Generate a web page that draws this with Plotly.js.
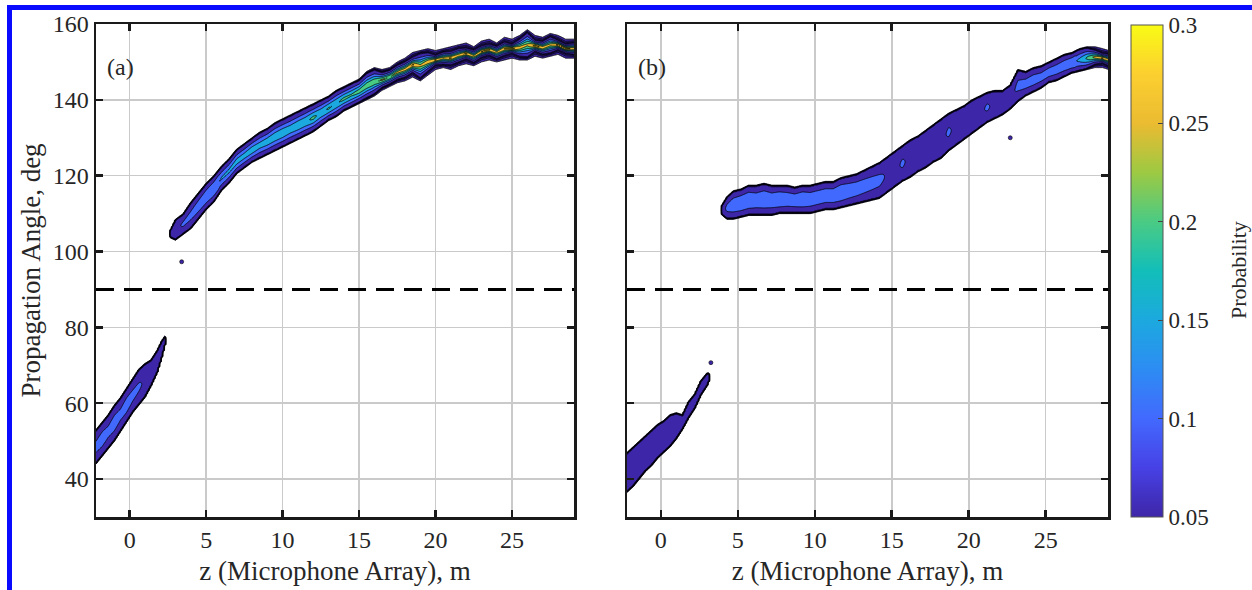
<!DOCTYPE html>
<html><head><meta charset="utf-8">
<script src="https://cdn.plot.ly/plotly-3.0.1.min.js"></script>
<style>html,body{margin:0;padding:0;background:#fff;}#chart{width:1252px;height:590px;}</style>
</head><body><div id="chart"></div>
<script>
// ---------- values ----------
const xTicks = [0, 5, 10, 15, 20, 25];
const yTicks = [40, 60, 80, 100, 120, 140, 160];
const cbTicks = [0.05, 0.1, 0.15, 0.2, 0.25, 0.3];
const cbTickText = ['0.05', '0.1', '0.15', '0.2', '0.25', '0.3'];
const dashAngle = 90;
const panelLabels = ['(a)', '(b)'];

// Panel (a), upper branch: z (m), lower / upper outer edge (deg), peak probability
const aUpZ  = [2.7,3.0,3.5,4.0,4.5,5.0,5.5,6.0,6.5,7.0,7.5,8.0,8.5,9.0,9.5,10.0,10.5,11.0,11.5,12.0,12.5,13.0,13.5,14.0,14.5,15.0,15.5,16.0,16.5,17.0,17.5,18.0,18.5,19.0,19.5,20.0,20.5,21.0,21.5,22.0,22.5,23.0,23.5,24.0,24.5,25.0,25.5,26.0,26.5,27.0,27.5,28.0,28.5,29.1];
const aUpLo = [103.5,103,104.5,106,108.5,111,113,116,118,120.5,122,123.5,124.5,125.5,126.5,127.5,128.5,129.5,130.5,131.5,133,134.5,135.5,137,138,139,140,141,142.5,143.5,144.5,145,146,145,146.5,148,148.5,148,149,149.5,149,150,150.5,150,150.5,151,150.5,150.5,151.5,151,151.5,152,151,151];
const aUpHi = [106,108.5,110,113,115.5,118,120,122.5,124.5,127,128.5,130,131.5,132.5,134,135,136,137,138,139,140,141,142.5,143.5,144.5,145.5,147.5,148.5,148,148.5,150,151,152.5,153,153.5,153,153.5,154,154.5,155,154,155.5,156,155,156.5,156,157,158.5,157,156.5,157.5,157,156,156];
const aUpPk = [0.08,0.09,0.105,0.11,0.12,0.13,0.14,0.155,0.16,0.17,0.17,0.18,0.17,0.18,0.185,0.19,0.18,0.19,0.19,0.21,0.19,0.205,0.195,0.21,0.205,0.22,0.23,0.24,0.26,0.25,0.27,0.28,0.31,0.26,0.29,0.31,0.27,0.31,0.28,0.32,0.27,0.31,0.32,0.27,0.31,0.32,0.28,0.26,0.32,0.29,0.27,0.31,0.32,0.28];

// Panel (a), lower branch
const aLoZ  = [-2.2,-1.8,-1.4,-1.0,-0.6,-0.2,0.2,0.6,1.0,1.4,1.8,2.1,2.35];
const aLoLo = [44,46,48,50,52.5,55,57.5,59.5,61.5,64.5,68,72,76];
const aLoHi = [53,55,57,59.5,61.5,64,66.5,69,70.5,71.5,74,76.5,78];
const aLoPk = [0.11,0.12,0.11,0.12,0.11,0.12,0.11,0.105,0.095,0.09,0.08,0.07,0.06];

// Panel (b), upper branch
const bUpZ  = [4.0,4.3,4.7,5.2,5.7,6.2,6.7,7.2,7.7,8.2,8.7,9.2,9.7,10.2,10.7,11.2,11.7,12.2,12.7,13.2,13.7,14.2,14.7,15.2,15.7,16.2,16.7,17.2,17.7,18.2,18.7,19.2,19.7,20.2,20.7,21.2,21.7,22.2,22.7,23.2,23.7,24.2,24.7,25.2,25.7,26.2,26.7,27.2,27.7,28.2,28.7,29.1];
const bUpLo = [109.5,108.5,108.5,109,109.5,109.5,109.5,109.5,110,110,110,110,110,110.5,111,111,111.5,112,112.5,113,113.5,114,115.5,117,118.5,119.5,121,122,123.5,124.5,126.5,128,129.5,131,132.5,134,135,136,137.5,139.5,141,142,143,144.5,145,146,147,147.5,148,148.5,148.5,148];
const bUpHi = [112.5,114.5,116,116.5,117.5,117.5,118,117.5,117.5,117.5,117,117.5,117.5,118,118.5,118.5,119.5,120,120.5,121.5,122.5,123.5,125,126.5,128,129.5,130.5,132,133.5,135,136.5,137.5,138.5,140,141,142,142.5,142.5,144,148,147.5,148.5,149,150,151,152,152.5,153.5,154,154,153.5,153];
const bUpPk = [0.08,0.11,0.13,0.14,0.14,0.13,0.14,0.13,0.14,0.13,0.13,0.14,0.13,0.13,0.13,0.13,0.14,0.13,0.125,0.12,0.115,0.11,0.095,0.09,0.105,0.09,0.09,0.095,0.09,0.09,0.105,0.09,0.09,0.09,0.09,0.105,0.09,0.09,0.085,0.11,0.115,0.12,0.115,0.12,0.12,0.125,0.135,0.16,0.21,0.27,0.31,0.28];

// Panel (b), lower branch
const bLoZ  = [-2.2,-1.8,-1.4,-1.0,-0.6,-0.2,0.2,0.6,1.0,1.4,1.8,2.2,2.6,3.0,3.15];
const bLoLo = [36.5,38,40,42,43.5,45.5,47,48.5,50.5,53,56,58.5,62,64.5,66];
const bLoHi = [47,48.5,50,51.5,53,54.5,55.5,57,57.5,57,60.5,62.5,66,68,68];
const bLoPk = [0.09,0.09,0.09,0.09,0.09,0.09,0.09,0.085,0.08,0.07,0.07,0.07,0.07,0.07,0.06];

// isolated specks
const specAZ = [3.4],        specAAng = [97.3];
const specBZ = [22.7, 3.25], specBAng = [130, 70.7];

// ---------- colours ----------
const parula = [
  [0.0,'rgb(62,38,168)'],[0.1,'rgb(71,65,229)'],[0.2,'rgb(66,105,254)'],[0.3,'rgb(45,140,243)'],
  [0.4,'rgb(28,169,223)'],[0.5,'rgb(18,190,185)'],[0.6,'rgb(74,203,132)'],[0.7,'rgb(157,201,67)'],
  [0.8,'rgb(235,187,49)'],[0.9,'rgb(252,207,48)'],[1.0,'rgb(249,251,21)']
];
function parulaAt(p){
  p = Math.max(0, Math.min(1, p));
  for (let i = 0; i < parula.length - 1; i++) {
    const a = parula[i], b = parula[i+1];
    if (p <= b[0]) {
      const f = (p - a[0]) / (b[0] - a[0]);
      const ca = a[1].match(/\d+/g).map(Number), cb = b[1].match(/\d+/g).map(Number);
      return 'rgb(' + ca.map((v,k)=>Math.round(v + f*(cb[k]-v))).join(',') + ')';
    }
  }
  return parula[parula.length-1][1];
}
const cMin = cbTicks[0], cMax = cbTicks[cbTicks.length-1];
const lvStart = 0.05, lvEnd = 0.3, lvSize = 0.05;
const nLev = Math.round((lvEnd - lvStart)/lvSize) + 1;
const bandScale = [[0, 'rgba(255,255,255,0)']];
for (let k = 1; k <= nLev; k++) {
  const lower = lvStart + (k-1)*lvSize;
  bandScale.push([k/nLev, parulaAt((lower - cMin)/(cMax - cMin))]);
}
const tailStart = 0.01, tailEnd = 0.04, tailSize = 0.01;
const tailScale = [[0,'rgba(255,255,255,0)'],[0.25, parula[0][1]],[1, parula[0][1]]];

// ---------- grid for the contour traces ----------
const xGrid = []; for (let x = -2.2; x <= 29.15; x += 0.1) xGrid.push(+x.toFixed(2));
const yGrid = []; for (let y = 30; y <= 160; y += 0.25) yGrid.push(y);

function addRidge(grid, zs, lo, hi, pk){
  for (let i = 0; i < xGrid.length; i++) {
    const x = xGrid[i];
    if (x < zs[0] || x > zs[zs.length-1]) continue;
    let k = 0; while (k < zs.length - 2 && x > zs[k+1]) k++;
    const f = (x - zs[k]) / (zs[k+1] - zs[k]);
    const l = lo[k] + f*(lo[k+1]-lo[k]);
    const h = hi[k] + f*(hi[k+1]-hi[k]);
    const p = pk[k] + f*(pk[k+1]-pk[k]);
    const c = (l + h)/2, hw = (h - l)/2;
    const rim = 0.3 + 9*Math.max(0, p - 0.2);
    const w = Math.max(hw - rim, 0.4);
    const a = Math.log(p/0.05);
    const q = p >= 0.24 ? 1.5 : (p >= 0.15 ? 1.6 : 2);
    for (let j = 0; j < yGrid.length; j++) {
      const d = Math.abs(yGrid[j] - c);
      let v;
      if (d <= w) v = p*Math.exp(-a*Math.pow(d/w, q));
      else v = 0.05*Math.exp(-Math.log(5)*(d - w)/rim);
      if (v < 0.002) continue;
      if (v > grid[j][i]) grid[j][i] = v;
    }
  }
}
function newGrid(){ return yGrid.map(()=>new Array(xGrid.length).fill(0)); }
const gridA = newGrid(); addRidge(gridA, aUpZ, aUpLo, aUpHi, aUpPk); addRidge(gridA, aLoZ, aLoLo, aLoHi, aLoPk);
const gridB = newGrid(); addRidge(gridB, bUpZ, bUpLo, bUpHi, bUpPk); addRidge(gridB, bLoZ, bLoLo, bLoHi, bLoPk);

function tailTrace(grid, xa, ya){
  return {
    type:'contour', x:xGrid, y:yGrid, z:grid, xaxis:xa, yaxis:ya,
    autocontour:false, contours:{start:tailStart, end:tailEnd, size:tailSize, coloring:'fill', showlines:true},
    colorscale:tailScale, showscale:false, line:{color:'#000', width:0.9, smoothing:0},
    hoverinfo:'skip'
  };
}
function contourTrace(grid, xa, ya){
  return {
    type:'contour', x:xGrid, y:yGrid, z:grid, xaxis:xa, yaxis:ya,
    autocontour:false, contours:{start:lvStart, end:lvEnd, size:lvSize, coloring:'fill', showlines:true},
    colorscale:bandScale, showscale:false, line:{color:'#000', width:0.8, smoothing:0},
    hoverinfo:'skip'
  };
}
function speckTrace(xs, ys, xa, ya){
  return {type:'scatter', mode:'markers', x:xs, y:ys, xaxis:xa, yaxis:ya,
    marker:{size:4, color:parula[0][1], line:{color:'#000', width:0.6}}, hoverinfo:'skip', showlegend:false};
}
const colorbarTrace = {
  type:'scatter', mode:'markers', x:[null], y:[null], xaxis:'x', yaxis:'y', showlegend:false, hoverinfo:'skip',
  marker:{color:[cMin], cmin:cMin, cmax:cMax, colorscale:parula, showscale:true,
    colorbar:{x:1131/1252, xanchor:'left', xpad:0, ypad:0, y:1-517/590, yanchor:'bottom', len:492/590, lenmode:'fraction',
      thickness:32, thicknessmode:'pixels', outlinewidth:1, outlinecolor:'#555',
      tickmode:'array', tickvals:cbTicks, ticktext:cbTickText, ticks:'inside', ticklen:5, tickwidth:1, tickcolor:'#444',
      tickfont:{family:'Liberation Serif', size:23, color:'#262626'}}}
};

const font = {family:'Liberation Serif', size:24, color:'#262626'};
const titleFont = {family:'Liberation Serif', size:27, color:'#262626'};
const axisBase = {
  showline:true, linecolor:'#1a1a1a', linewidth:2.5, mirror:'ticks',
  ticks:'inside', ticklen:7, tickwidth:2.5, tickcolor:'#1a1a1a',
  showgrid:true, gridcolor:'#cacaca', gridwidth:1.6, zeroline:false,
  tickfont:font, fixedrange:true
};
const yDom = [1-517/590, 1-24/590];
const layout = {
  width:1252, height:590, margin:{l:0, r:0, t:0, b:0},
  paper_bgcolor:'#fff', plot_bgcolor:'#fff', showlegend:false, font:font,
  xaxis: Object.assign({}, axisBase, {domain:[96/1252, 574/1252], range:[-2.2, 29.05], anchor:'y',
    tickmode:'array', tickvals:xTicks, ticklabelstandoff:0,
    title:{text:'z (Microphone Array), m', font:titleFont, standoff:9}}),
  yaxis: Object.assign({}, axisBase, {domain:yDom, range:[30,160], anchor:'x',
    tickmode:'array', tickvals:yTicks, ticklabelstandoff:0,
    title:{text:'Propagation Angle, deg', font:titleFont, standoff:5}}),
  xaxis2: Object.assign({}, axisBase, {domain:[627/1252, 1108/1252], range:[-2.2, 29.05], anchor:'y2',
    tickmode:'array', tickvals:xTicks, ticklabelstandoff:0,
    title:{text:'z (Microphone Array), m', font:titleFont, standoff:9}}),
  yaxis2: Object.assign({}, axisBase, {domain:yDom, range:[30,160], anchor:'x2',
    tickmode:'array', tickvals:yTicks, showticklabels:false}),
  shapes:[
    {type:'line', xref:'x domain', x0:0, x1:1, yref:'y', y0:dashAngle, y1:dashAngle, layer:'above',
      line:{color:'#000', width:3, dash:'18px,10px'}},
    {type:'line', xref:'x2 domain', x0:0, x1:1, yref:'y2', y0:dashAngle, y1:dashAngle, layer:'above',
      line:{color:'#000', width:3, dash:'18px,10px'}},
    {type:'rect', xref:'paper', yref:'paper', x0:7/1252, x1:1, y0:1-10/590, y1:1-5/590, fillcolor:'#0a0aff', line:{width:0}, layer:'above'},
    {type:'rect', xref:'paper', yref:'paper', x0:7/1252, x1:12/1252, y0:0, y1:1-5/590, fillcolor:'#0a0aff', line:{width:0}, layer:'above'}
  ],
  annotations:[
    {text:panelLabels[0], xref:'paper', yref:'paper', x:105/1252, y:1-67/590, xanchor:'left', yanchor:'middle', showarrow:false, font:font},
    {text:panelLabels[1], xref:'paper', yref:'paper', x:636/1252, y:1-67/590, xanchor:'left', yanchor:'middle', showarrow:false, font:font},
    {text:'Probability', xref:'paper', yref:'paper', x:1238/1252, y:1-270/590, xanchor:'center', yanchor:'middle', textangle:-90, showarrow:false,
      font:{family:'Liberation Serif', size:22, color:'#262626'}}
  ]
};

Plotly.newPlot('chart', [
  tailTrace(gridA, 'x', 'y'), contourTrace(gridA, 'x', 'y'),
  tailTrace(gridB, 'x2', 'y2'), contourTrace(gridB, 'x2', 'y2'),
  speckTrace(specAZ, specAAng, 'x', 'y'), speckTrace(specBZ, specBAng, 'x2', 'y2'),
  colorbarTrace
], layout, {displayModeBar:false, staticPlot:true});
</script></body></html>
